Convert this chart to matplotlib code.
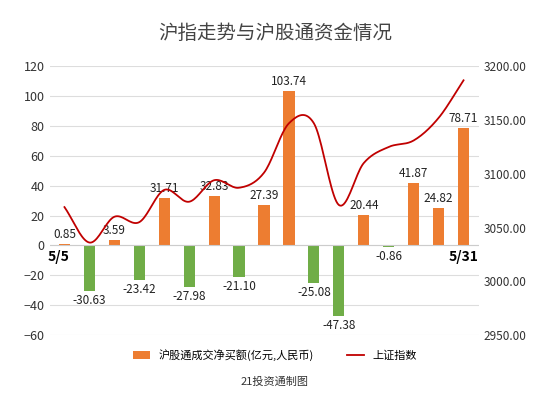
import numpy as np
import matplotlib.pyplot as plt

plt.rcParams['font.family'] = ['Noto Sans CJK SC', 'DejaVu Sans']

flow = [0.85, -30.63, 3.59, -23.42, 31.71, -27.98, 32.83, -21.10, 27.39,
        103.74, -25.08, -47.38, 20.44, -0.86, 41.87, 24.82, 78.71]
index = [3069, 3036, 3060, 3055, 3085, 3074, 3094, 3087, 3101,
         3147, 3147, 3071, 3110, 3125, 3131, 3152, 3187]
flow_name = '沪股通成交净买额(亿元,人民币)'
index_name = '上证指数'


def smooth(x, y, n=20):
    # catmull-rom, only for drawing the curve
    x = np.asarray(x, float)
    y = np.asarray(y, float)
    px = np.concatenate([[2 * x[0] - x[1]], x, [2 * x[-1] - x[-2]]])
    py = np.concatenate([[2 * y[0] - y[1]], y, [2 * y[-1] - y[-2]]])
    xs, ys = [], []
    t = np.linspace(0, 1, n, endpoint=False)
    for i in range(1, len(px) - 2):
        for arr, out in ((px, xs), (py, ys)):
            p0, p1, p2, p3 = arr[i - 1:i + 3]
            out.extend(0.5 * (2 * p1 + (-p0 + p2) * t + (2 * p0 - 5 * p1 + 4 * p2 - p3) * t ** 2
                              + (-p0 + 3 * p1 - 3 * p2 + p3) * t ** 3))
    xs.append(x[-1])
    ys.append(y[-1])
    return np.array(xs), np.array(ys)


fig = plt.figure(figsize=(5.5, 4.07), dpi=100)
ax = fig.add_axes([0.09, 0.177, 0.78, 0.66])
x = np.arange(len(flow))
colors = ['#ed7d31' if v >= 0 else '#70ad47' for v in flow]
ax.bar(x, flow, width=0.45, color=colors, label=flow_name, zorder=2)
ax.set_ylim(-60, 120)
ax.set_yticks(range(-60, 121, 20))
ax.set_xlim(-0.6, len(flow) - 0.4)
ax.set_xticks([])
ax.grid(axis='y', color='#dddddd', lw=0.8, zorder=0)
ax.axhline(0, color='#cccccc', lw=0.8)
for s in ax.spines.values():
    s.set_visible(False)
ax.tick_params(axis='y', length=0, labelsize=9, colors='#333333')

for i, v in enumerate(flow):
    if v >= 0:
        ax.text(i, v + 2, f'{v:.2f}', ha='center', va='bottom', fontsize=8.5, color='#222222')
    else:
        ax.text(i, v - 2, f'{v:.2f}', ha='center', va='top', fontsize=8.5, color='#222222')
ax.text(-0.25, -3, '5/5', ha='center', va='top', fontsize=10, fontweight='bold')
ax.text(len(flow) - 1, -3, '5/31', ha='center', va='top', fontsize=10, fontweight='bold')

ax2 = ax.twinx()
sx, sy = smooth(x, index)
ax2.plot(sx, sy, color='#c00000', lw=1.3, label=index_name)
ax2.set_ylim(2950, 3200)
ax2.set_yticks(range(2950, 3201, 50))
ax2.set_yticklabels([f'{v:.2f}' for v in range(2950, 3201, 50)])
ax2.tick_params(axis='y', length=0, labelsize=8.5, colors='#333333')
for s in ax2.spines.values():
    s.set_visible(False)

fig.text(0.5, 0.905, '沪指走势与沪股通资金情况', ha='center', fontsize=14, color='#444444')
h1, l1 = ax.get_legend_handles_labels()
h2, l2 = ax2.get_legend_handles_labels()
fig.legend([h1[0].patches[0] if hasattr(h1[0], 'patches') else h1[0], h2[0]], [l1[0], l2[0]],
           loc='center', bbox_to_anchor=(0.5, 0.128), ncol=2, frameon=False, fontsize=8,
           handlelength=1.5, columnspacing=3)
fig.text(0.5, 0.055, '21投资通制图', ha='center', fontsize=8, color='#333333')
fig.savefig('out.png')
